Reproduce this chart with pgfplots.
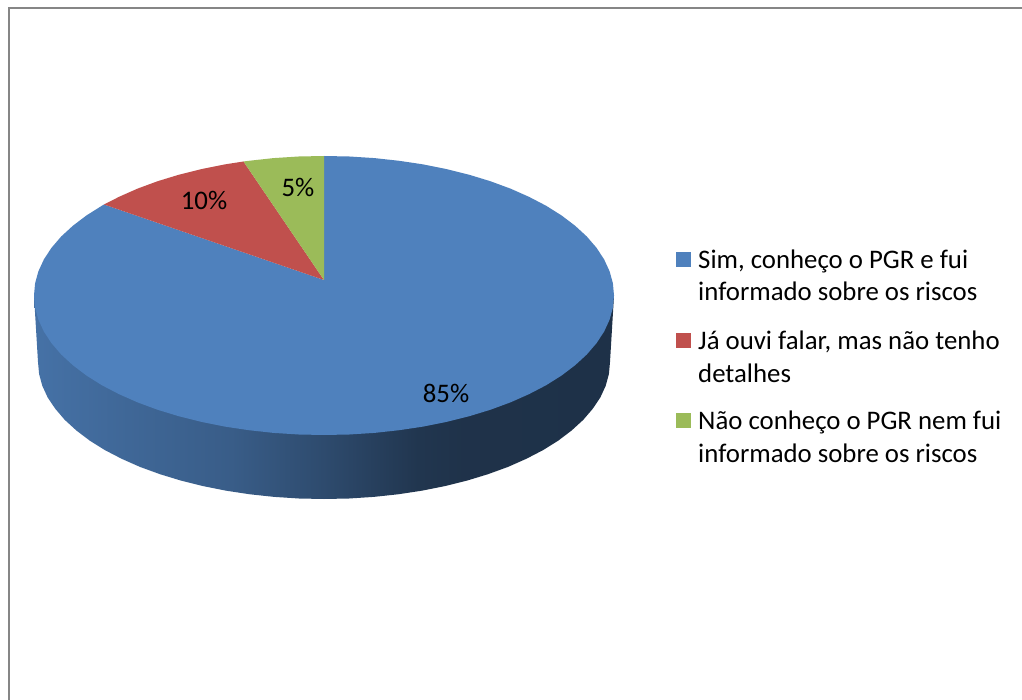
\documentclass[border=0pt]{standalone}
\usepackage{pgfplots}
\pgfplotsset{compat=1.18}
\usepackage{fontspec}
\setmainfont{Carlito}
\definecolor{cblue}{HTML}{4F81BD}
\definecolor{cred}{HTML}{C0504D}
\definecolor{cgreen}{HTML}{9BBB59}
\definecolor{frame}{HTML}{868686}
\pgfdeclarehorizontalshading{wall}{100bp}{
  color(0bp)=(cblue!85!black);
  color(25bp)=(cblue!88!black);
  color(33bp)=(cblue!80!black);
  color(42bp)=(cblue!72!black);
  color(50bp)=(cblue!58!black);
  color(58bp)=(cblue!42!black);
  color(62bp)=(cblue!39!black);
  color(75bp)=(cblue!38!black);
  color(100bp)=(cblue!38!black)}
\begin{document}
\begin{tikzpicture}
\begin{axis}[
  scale only axis, width=1022pt, height=700pt,
  xmin=0, xmax=1022, ymin=0, ymax=700, y dir=reverse,
  hide axis, clip=true,
  every axis plot/.append style={no markers, draw=none},
]
% page background, fixes the size of the picture
\addplot[draw=none, fill=white] coordinates {(0,0) (1022,0) (1022,700) (0,700)} --cycle;
% frame
\addplot[draw=frame, line width=2.2pt] coordinates {(9,700) (9,8) (1022,8)};
% side wall of the pie
\addplot[draw=none, shade, shading=wall] coordinates {
 (34,295.5) (38,362) (39.1,374) (42.3,385.8) (47.7,397.5) (55.3,408.8) (64.8,419.9) (76.4,430.5)
 (89.7,440.6) (104.9,450.1) (121.7,458.8) (140.2,467) (160,474.2) (181,480.6) (203.1,486.1)
 (226.2,490.7) (249.9,494.3) (274.3,496.9) (299,498.5) (324,499)
 (349,498.5) (373.7,496.9) (398.1,494.3) (421.8,490.7) (444.9,486.1) (467,480.6) (488,474.2)
 (507.8,467) (526.3,458.8) (543.1,450.1) (558.3,440.6) (571.6,430.5) (583.2,419.9) (592.7,408.8)
 (600.3,397.5) (605.7,385.8) (608.9,374) (610,362) (614,295.5)} --cycle;
% top: blue slice, 85 %
\addplot[draw=none, fill=cblue] coordinates {
 (324,280) (324,156) (349.3,156.5) (374.4,158.1) (399.1,160.8) (423.2,164.4) (446.6,169.1) (469,174.7)
 (490.3,181.2) (510.4,188.6) (529.1,196.9) (546.2,205.8) (561.6,215.5) (575.1,225.75) (586.8,236.5)
 (596.5,247.8) (604.1,259.4) (609.6,271.3) (612.9,283.3) (614,295.5)
 (612.9,307.7) (609.6,319.7) (604.1,331.6) (596.5,343.2) (586.8,354.5) (575.1,365.25) (561.6,375.5)
 (546.2,385.2) (529.1,394.1) (510.4,402.4) (490.3,409.8) (469,416.3) (446.6,421.9) (423.2,426.6)
 (399.1,430.2) (374.4,432.9) (349.3,434.5) (324,435)
 (298.7,434.5) (273.6,432.9) (248.9,430.2) (224.8,426.6) (201.4,421.9) (179,416.3) (157.7,409.8)
 (137.6,402.4) (118.9,394.1) (101.8,385.2) (86.4,375.5) (72.9,365.25) (61.2,354.5) (51.5,343.2)
 (43.9,331.6) (38.4,319.7) (35.1,307.7) (34,295.5)
 (35.1,283.3) (38.4,271.3) (43.9,259.4) (51.5,247.8) (61.2,236.5) (72.9,225.75) (86.4,215.5)
 (101.8,205.8) (104,204.5)} --cycle;
% red slice, 10 %
\addplot[draw=none, fill=cred] coordinates {
 (324,280) (104,204.5) (118.9,196.9) (137.6,188.6) (157.7,181.2) (179,174.7) (201.4,169.1) (224.8,164.4) (243.5,161.5)} --cycle;
% green slice, 5 %
\addplot[draw=none, fill=cgreen] coordinates {
 (324,280) (243.5,161.5) (248.9,160.8) (273.6,158.1) (298.7,156.5) (324,156)} --cycle;
% legend keys
\addplot[draw=none, fill=cblue] coordinates {(676,252) (691,252) (691,267) (676,267)} --cycle;
\addplot[draw=none, fill=cred] coordinates {(676,333) (691,333) (691,348) (676,348)} --cycle;
\addplot[draw=none, fill=cgreen] coordinates {(676,413) (691,413) (691,428) (676,428)} --cycle;
\newcommand\fs{\fontsize{26.8}{32}\selectfont}
\node[anchor=base west, inner sep=0pt] at (axis cs:698,269) {\fs Sim, conheço o PGR e fui};
\node[anchor=base west, inner sep=0pt] at (axis cs:698,301) {\fs informado sobre os riscos};
\node[anchor=base west, inner sep=0pt] at (axis cs:698,349) {\fs Já ouvi falar, mas não tenho};
\node[anchor=base west, inner sep=0pt] at (axis cs:698,382) {\fs detalhes};
\node[anchor=base west, inner sep=0pt] at (axis cs:698,429) {\fs Não conheço o PGR nem fui};
\node[anchor=base west, inner sep=0pt] at (axis cs:698,462) {\fs informado sobre os riscos};
\node[anchor=base, inner sep=0pt] at (axis cs:446,402) {\fs 85\%};
\node[anchor=base, inner sep=0pt] at (axis cs:204,210) {\fs 10\%};
\node[anchor=base, inner sep=0pt] at (axis cs:298,196.5) {\fs 5\%};
\end{axis}
\end{tikzpicture}
\end{document}
